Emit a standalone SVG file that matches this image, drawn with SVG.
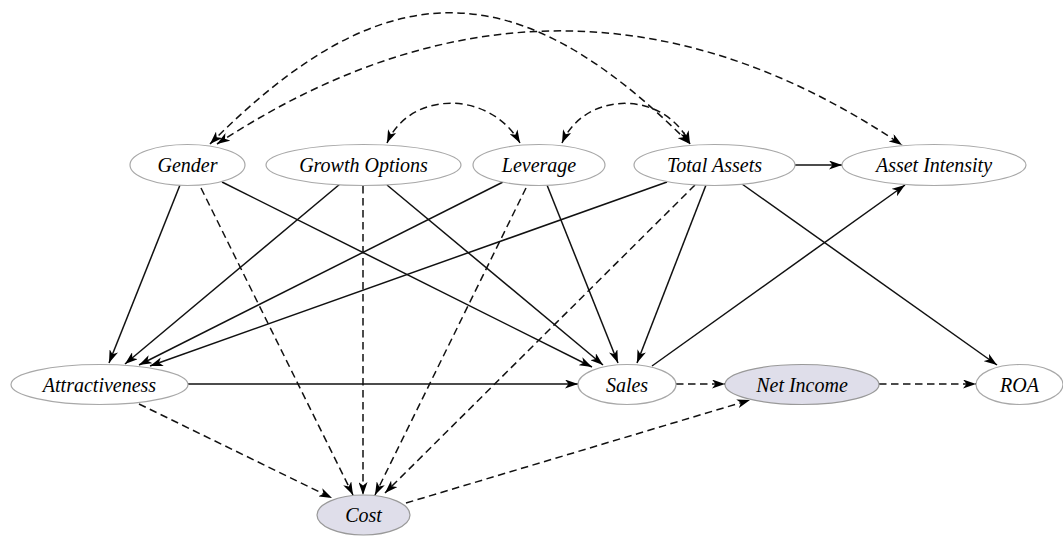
<svg xmlns="http://www.w3.org/2000/svg" width="1063" height="536" viewBox="0 0 1063 536">
<defs>
<marker id="ah" viewBox="0 0 13 9" markerWidth="13" markerHeight="9" refX="13" refY="4.5" orient="auto-start-reverse" markerUnits="userSpaceOnUse">
<path d="M0,0 L13,4.5 L0,9 L3.5,4.5 z" fill="#000"/>
</marker>
</defs>
<style>
.n ellipse{fill:#fff;stroke:#a8a8a8;stroke-width:1.2}
.n.g ellipse{fill:#dfdeea;stroke:#999}
.n text{font-family:"Liberation Serif","Times New Roman",serif;font-style:italic;font-size:20px;fill:#000;text-anchor:middle}
.e line,.e path{stroke:#111;stroke-width:1.5;fill:none;marker-end:url(#ah)}
.e .d{stroke-dasharray:7.5,4.5}
.e path{marker-start:url(#ah)}
</style>
<rect width="1063" height="536" fill="#fff"/>
<g id="edges" class="e">
<path class="d" d="M210,144 C384,-31 516,-31 690,144"/>
<path class="d" d="M217,144 C473,-24 703,11 902,145"/>
<path class="d" d="M387,143 C410,90 490,90 520,143"/>
<path class="d" d="M562,143 C585,90 665,90 690,144"/>
<line x1="180" y1="185" x2="109" y2="363"/>
<line x1="340" y1="184" x2="125" y2="364"/>
<line x1="503" y1="182" x2="139" y2="365"/>
<line x1="667" y1="182" x2="150" y2="366"/>
<line x1="222" y1="182" x2="592" y2="367"/>
<line x1="387" y1="185" x2="603" y2="365"/>
<line x1="547" y1="185" x2="618" y2="363"/>
<line x1="706" y1="185" x2="637" y2="363"/>
<line x1="652" y1="366" x2="905" y2="185"/>
<line x1="742" y1="184" x2="997" y2="365"/>
<line x1="795" y1="165" x2="842" y2="165"/>
<line x1="188" y1="384" x2="578" y2="384"/>
<line class="d" x1="201" y1="188" x2="353" y2="495"/>
<line class="d" x1="363" y1="186" x2="363" y2="495"/>
<line class="d" x1="526" y1="188" x2="375" y2="495"/>
<line class="d" x1="695" y1="185" x2="385" y2="493"/>
<line class="d" x1="139" y1="404" x2="332" y2="498"/>
<line class="d" x1="676" y1="384" x2="725" y2="384"/>
<line class="d" x1="879" y1="384" x2="976" y2="384"/>
<line class="d" x1="406" y1="503" x2="750" y2="400"/>
</g>
<g id="gender" class="n"><ellipse cx="187.5" cy="165" rx="57.5" ry="20.5"/><text x="187.5" y="172">Gender</text></g>
<g id="growth" class="n"><ellipse cx="363.5" cy="165" rx="97.5" ry="20.5"/><text x="363.5" y="172">Growth Options</text></g>
<g id="leverage" class="n"><ellipse cx="539" cy="165" rx="66" ry="20.5"/><text x="539" y="172">Leverage</text></g>
<g id="totalassets" class="n"><ellipse cx="714.5" cy="165" rx="80.5" ry="20.5"/><text x="714.5" y="172">Total Assets</text></g>
<g id="assetintensity" class="n"><ellipse cx="934" cy="165" rx="92" ry="20.5"/><text x="934" y="172">Asset Intensity</text></g>
<g id="attractiveness" class="n"><ellipse cx="99.5" cy="384.5" rx="88.5" ry="20"/><text x="99.5" y="391.5">Attractiveness</text></g>
<g id="sales" class="n"><ellipse cx="627" cy="384.5" rx="49" ry="20"/><text x="627" y="391.5">Sales</text></g>
<g id="netincome" class="n g"><ellipse cx="802" cy="384.5" rx="77" ry="20"/><text x="802" y="391.5">Net Income</text></g>
<g id="roa" class="n"><ellipse cx="1019.5" cy="384.5" rx="43.5" ry="20"/><text x="1019.5" y="391.5">ROA</text></g>
<g id="cost" class="n g"><ellipse cx="363.5" cy="515" rx="46.5" ry="20"/><text x="363.5" y="522">Cost</text></g>
</svg>
